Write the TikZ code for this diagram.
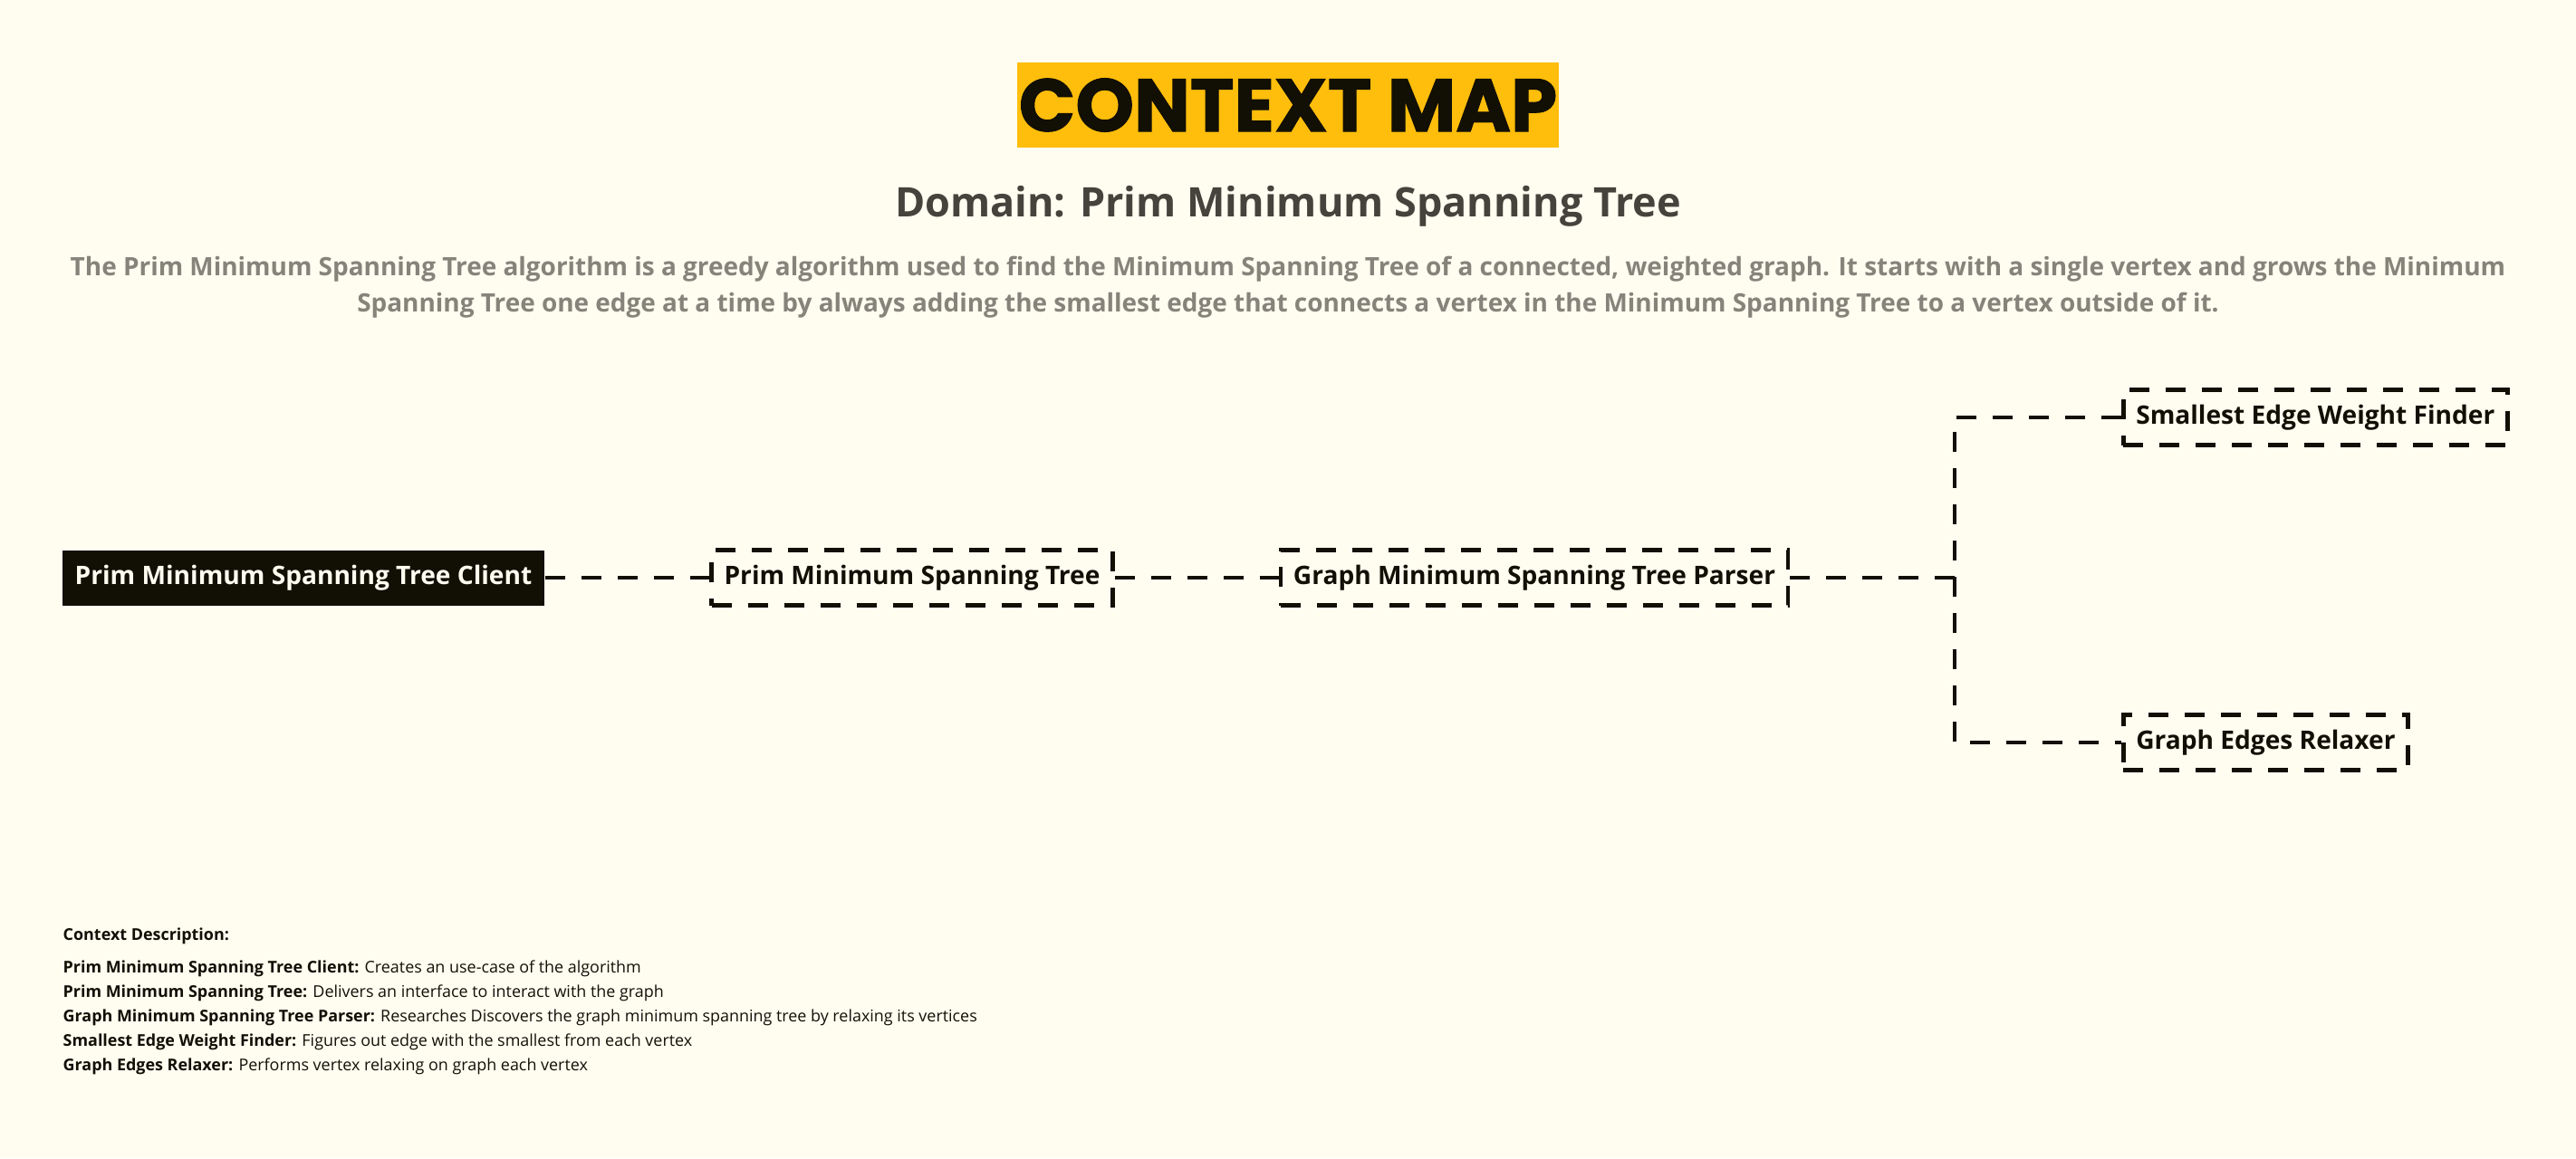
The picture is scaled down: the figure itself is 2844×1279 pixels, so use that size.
\documentclass[tikz,border=0pt]{standalone}
\usepackage{fontspec}
\setmainfont{Open Sans}
\newfontfamily\titlefont{Poppins}[BoldFeatures={FakeBold=1.2}]
\definecolor{paper}{HTML}{FFFCF0}
\definecolor{amber}{HTML}{FFBE0B}
\definecolor{ink}{HTML}{120F05}
\definecolor{slate}{HTML}{45433C}
\definecolor{mist}{HTML}{86847A}
\tikzset{
  ctx/.style={rectangle, inner xsep=1.4mm, minimum height=6.1mm,
    font=\fontsize{8}{9.6}\selectfont\bfseries, text=ink},
  client/.style={ctx, fill=ink, text=paper},
  bounded/.style={ctx, draw=ink, line width=1.3pt, dash pattern=on 2.2mm off 1.8mm},
  link/.style={draw=ink, line width=1.3pt, dash pattern=on 2.2mm off 1.8mm}
}
\begin{document}
\begin{tikzpicture}[x=0.1mm,y=-0.1mm]
\fill[paper] (0,0) rectangle (2844,1279);
\node[fill=amber, minimum width=59.8mm, minimum height=9.4mm, inner sep=0pt,
  font=\titlefont\fontsize{23.4}{26}\selectfont\bfseries, text=ink] (title) at (1422,116) {CONTEXT MAP};
\node[font=\fontsize{12.8}{15}\selectfont\bfseries, text=slate] (domain) at (1422,228) {Domain: Prim Minimum Spanning Tree};
\node[align=center, font=\fontsize{7.95}{11.4}\selectfont\bfseries, text=mist] (about) at (1422,317)
  {The Prim Minimum Spanning Tree algorithm is a greedy algorithm used to find the Minimum Spanning Tree of a connected, weighted graph. It starts with a single vertex and grows the Minimum\\
   Spanning Tree one edge at a time by always adding the smallest edge that connects a vertex in the Minimum Spanning Tree to a vertex outside of it.};
\node[client] (pc) at (335,638) {Prim Minimum Spanning Tree Client};
\node[bounded] (pmst) at (1007,638) {Prim Minimum Spanning Tree};
\node[bounded] (parser) at (1694,638) {Graph Minimum Spanning Tree Parser};
\node[bounded, anchor=west] (finder) at (2342,461) {Smallest Edge Weight Finder};
\node[bounded, anchor=west] (relaxer) at (2342,820) {Graph Edges Relaxer};
\coordinate (fork) at (2158,638);
\draw[link] (pc) -- (pmst);
\draw[link] (pmst) -- (parser);
\draw[link] (parser) -- (fork);
\draw[link] (finder.west) -| (fork) |- (relaxer.west);
\node[anchor=north west, align=left, inner sep=0pt, font=\fontsize{5.1}{7.7}\selectfont, text=ink] (legend) at (69,1024)
  {\textbf{Context Description:}\\[0.9mm]
   \textbf{Prim Minimum Spanning Tree Client:} Creates an use-case of the algorithm\\
   \textbf{Prim Minimum Spanning Tree:} Delivers an interface to interact with the graph\\
   \textbf{Graph Minimum Spanning Tree Parser:} Researches Discovers the graph minimum spanning tree by relaxing its vertices\\
   \textbf{Smallest Edge Weight Finder:} Figures out edge with the smallest from each vertex\\
   \textbf{Graph Edges Relaxer:} Performs vertex relaxing on graph each vertex};
\end{tikzpicture}
\end{document}
